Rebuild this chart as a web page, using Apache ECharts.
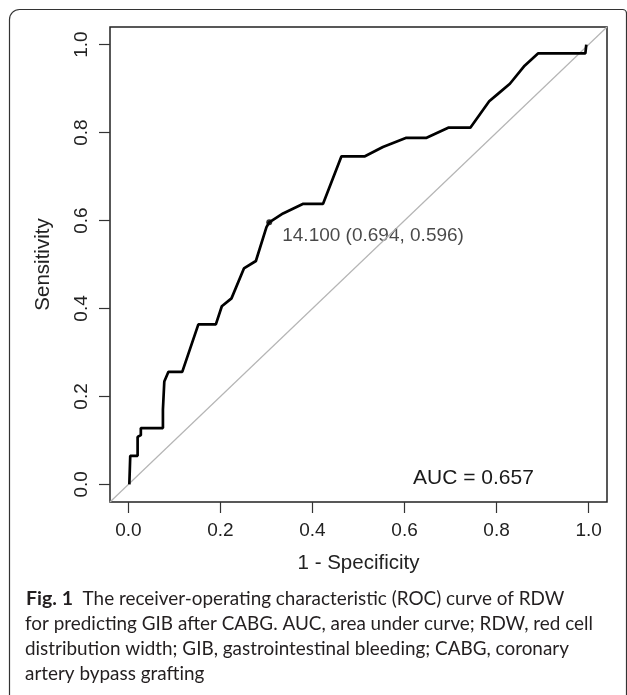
<!DOCTYPE html>
<html>
<head>
<meta charset="utf-8">
<script src="https://cdn.jsdelivr.net/npm/echarts@6/dist/echarts.min.js"></script>
<style>
  html, body { margin: 0; padding: 0; background: #fff; }
  #roc-chart { width: 627px; height: 695px; }
</style>
</head>
<body>
<div id="roc-chart"></div>
<script>
// ROC curve points, x = 1 - specificity, y = sensitivity
const fpr = [0.002, 0.004, 0.020, 0.020, 0.027, 0.027, 0.075, 0.075, 0.078, 0.087,
  0.117, 0.152, 0.190, 0.203, 0.224, 0.251, 0.277, 0.300, 0.306, 0.336,
  0.380, 0.423, 0.463, 0.514, 0.553, 0.604, 0.648, 0.695, 0.743, 0.784,
  0.803, 0.829, 0.861, 0.890, 0.993, 0.995];
const tpr = [0.000, 0.065, 0.065, 0.108, 0.112, 0.128, 0.128, 0.170, 0.234, 0.256,
  0.256, 0.364, 0.364, 0.405, 0.423, 0.491, 0.508, 0.585, 0.596, 0.616,
  0.638, 0.638, 0.746, 0.746, 0.767, 0.788, 0.788, 0.811, 0.811, 0.871,
  0.888, 0.911, 0.952, 0.980, 0.980, 1.000];
const cutoff = [0.306, 0.596];
const cutoffLabel = '14.100 (0.694, 0.596)';
const aucText = 'AUC = 0.657';
const ticks = [0, 0.2, 0.4, 0.6, 0.8, 1.0];
const chance = [-0.04, 1.04];
const captionLines = [
  'for predicting GIB after CABG. AUC, area under curve; RDW, red cell',
  'distribution width; GIB, gastrointestinal bleeding; CABG, coronary',
  'artery bypass grafting'
];

const axisFont = 'Liberation Sans';
const capFont = 'Lato';
const capSize = 18.9;

const myChart = echarts.init(document.getElementById('roc-chart'));

const axisCommon = {
  type: 'value',
  min: -0.04,
  max: 1.04,
  axisLine: { show: false, onZero: false },
  splitLine: { show: false },
  axisTick: {
    customValues: ticks,
    length: 11,
    lineStyle: { color: '#333', width: 1.2 }
  },
  nameLocation: 'middle',
  nameTextStyle: { fontFamily: axisFont, fontSize: 20.5, color: '#222' }
};

const option = {
  animation: false,
  backgroundColor: '#fff',
  grid: {
    left: 110,
    right: 20,
    top: 27,
    bottom: 193,
    show: true,
    borderColor: '#222',
    borderWidth: 1.5
  },
  xAxis: Object.assign({}, axisCommon, {
    name: '1 - Specificity',
    nameGap: 51,
    axisLabel: {
      customValues: ticks,
      margin: 19,
      fontFamily: axisFont,
      fontSize: 19,
      color: '#222',
      formatter: v => v.toFixed(1)
    }
  }),
  yAxis: Object.assign({}, axisCommon, {
    name: 'Sensitivity',
    nameGap: 56,
    axisLabel: {
      customValues: ticks,
      rotate: 90,
      margin: 19,
      fontFamily: axisFont,
      fontSize: 19,
      color: '#222',
      formatter: v => v.toFixed(1)
    }
  }),
  series: [
    {
      type: 'line',
      data: chance.map(v => [v, v]),
      symbol: 'none',
      silent: true,
      lineStyle: { color: '#b5b5b5', width: 1.2 }
    },
    {
      type: 'line',
      data: fpr.map((x, i) => [x, tpr[i]]),
      symbol: 'none',
      lineStyle: { color: '#000', width: 2.7 }
    },
    {
      type: 'scatter',
      data: [cutoff],
      symbolSize: 6,
      itemStyle: { color: '#000' },
      label: {
        show: true,
        position: 'right',
        distance: 5,
        offset: [5, 13],
        formatter: cutoffLabel,
        fontFamily: axisFont,
        fontSize: 19,
        color: '#1a1a1a'
      }
    }
  ],
  graphic: [
    {
      type: 'rect',
      shape: { x: 9.5, y: 9.5, width: 617, height: 720, r: [10, 4, 0, 0] },
      style: { fill: 'none', stroke: '#333', lineWidth: 1.2 },
      silent: true
    },
    {
      type: 'text',
      x: 413,
      y: 478,
      style: { text: aucText, fontFamily: axisFont, fontSize: 21, fill: '#1a1a1a', verticalAlign: 'middle' }
    },
    {
      type: 'text',
      x: 26,
      y: 599,
      style: {
        text: '{b|Fig. 1}  The receiver-operating characteristic (ROC) curve of RDW',
        fontFamily: capFont,
        fontSize: capSize,
        fill: '#231f20',
        verticalAlign: 'middle',
        rich: {
          b: { fontFamily: capFont, fontSize: capSize + 0.6, fontWeight: 'bold', fill: '#231f20' }
        }
      }
    }
  ].concat(captionLines.map((t, i) => ({
    type: 'text',
    x: 25,
    y: 624 + i * 25,
    style: { text: t, fontFamily: capFont, fontSize: capSize, fill: '#231f20', verticalAlign: 'middle' }
  })))
};

myChart.setOption(option);
</script>
</body>
</html>
